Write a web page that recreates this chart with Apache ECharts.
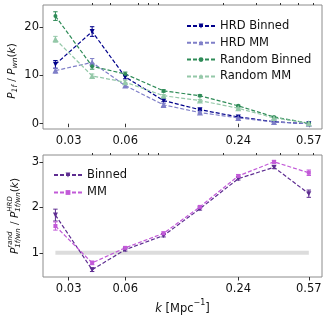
<!DOCTYPE html>
<html><head><meta charset="utf-8">
<script src="https://cdn.jsdelivr.net/npm/echarts@6/dist/echarts.min.js"></script>
<style>html,body{margin:0;padding:0;background:#fff}#c{width:328px;height:319px}</style>
</head><body><div id="c"></div>
<script>
// ---- data ----
const kValues = [0.0255, 0.040, 0.060, 0.096, 0.150, 0.240, 0.372, 0.570];
const xTickLabels = [0.03, 0.06, 0.24, 0.57];
const xMinorTicks = [0.04, 0.05, 0.07, 0.08, 0.09, 0.2, 0.3, 0.4, 0.5, 0.6];
const topYTicks = [0, 10, 20];
const botYTicks = [1, 2, 3];

const hrdBinned = [12.3, 19.1, 9.7, 4.8, 2.9, 1.4, 0.4, 0.0];
const hrdBinnedErr = [0.8, 1.0, 0.4, 0.25, 0.15, 0.1, 0.05, 0.03];
const hrdMM = [11.0, 12.7, 7.9, 3.9, 2.3, 1.2, 0.35, 0.0];
const hrdMMErr = [0.5, 0.8, 0.4, 0.3, 0.2, 0.1, 0.05, 0.03];
const randBinned = [22.3, 11.9, 10.3, 6.8, 5.8, 3.7, 1.4, 0.1];
const randBinnedErr = [0.9, 0.6, 0.4, 0.25, 0.2, 0.15, 0.08, 0.04];
const randMM = [17.5, 9.9, 8.6, 5.8, 4.8, 3.2, 1.2, 0.1];
const randMMErr = [0.6, 0.4, 0.4, 0.25, 0.2, 0.15, 0.08, 0.04];

const ratioBinned = [1.83, 0.63, 1.07, 1.38, 1.97, 2.63, 2.88, 2.30];
const ratioBinnedErr = [0.13, 0.04, 0.03, 0.03, 0.03, 0.03, 0.03, 0.08];
const ratioMM = [1.59, 0.78, 1.11, 1.43, 2.01, 2.69, 3.00, 2.76];
const ratioMMErr = [0.09, 0.04, 0.03, 0.03, 0.03, 0.03, 0.03, 0.06];
const refLevel = 1;

// ---- helpers ----
const FONT = '"DejaVu Sans", sans-serif';
const C = {
  hrdB: '#00008b', hrdM: '#7f7fc8', rndB: '#2e8b57', rndM: '#94c8a8',
  ratB: '#5e2d91', ratM: '#c25ad8', spine: '#8c8c8c'
};
const pairs = (vals) => kValues.map((k, i) => [k, vals[i]]);

function lineSeries(name, vals, color, symbol, size, rotate, axisIdx) {
  return {
    type: 'line', name, data: pairs(vals), xAxisIndex: axisIdx, yAxisIndex: axisIdx,
    symbol, symbolSize: size, symbolRotate: rotate || 0,
    lineStyle: { color, width: 1.2, type: [4, 2] },
    itemStyle: { color }, z: 5, animation: false
  };
}
function errSeries(vals, errs, color, axisIdx) {
  return {
    type: 'custom', xAxisIndex: axisIdx, yAxisIndex: axisIdx, silent: true, z: 4, animation: false,
    data: kValues.map((k, i) => [k, vals[i] - errs[i], vals[i] + errs[i]]),
    renderItem: (params, api) => {
      const lo = api.coord([api.value(0), api.value(1)]);
      const hi = api.coord([api.value(0), api.value(2)]);
      const w = 2.2;
      const st = { stroke: color, lineWidth: 1 };
      return { type: 'group', children: [
        { type: 'line', shape: { x1: lo[0], y1: lo[1], x2: hi[0], y2: hi[1] }, style: st },
        { type: 'line', shape: { x1: lo[0] - w, y1: lo[1], x2: lo[0] + w, y2: lo[1] }, style: st },
        { type: 'line', shape: { x1: hi[0] - w, y1: hi[1], x2: hi[0] + w, y2: hi[1] }, style: st }
      ]};
    }
  };
}

const cv = document.createElement('canvas').getContext('2d');
function tw(t, size, italic) { cv.font = (italic ? 'italic ' : '') + size + 'px ' + FONT; return cv.measureText(t).width; }
function rotLabel(cx, cy, pieces) {
  let x = 0; const kids = [];
  pieces.forEach(p => {
    const list = p.stack ? p.stack : [p];
    let wmax = 0;
    list.forEach(q => {
      const w = tw(q.t, q.s, q.it); wmax = Math.max(wmax, w);
      kids.push({ type: 'text', x: x, y: q.dy || 0, style: {
        text: q.t, fontSize: q.s, fontStyle: q.it ? 'italic' : 'normal', fontFamily: FONT,
        fill: '#111', align: 'left', verticalAlign: 'middle' } });
    });
    x += wmax;
  });
  return { type: 'group', x: cx, y: cy + x / 2, rotation: Math.PI / 2, children: kids };
}

const xMin = 0.0219, xMax = 0.670;
function xAxes(gi, withName) {
  const major = {
    type: 'log', gridIndex: gi, min: xMin, max: xMax, logBase: 10,
    axisLine: { show: false }, splitLine: { show: false },
    axisTick: { show: true, length: 3.5, lineStyle: { color: '#333' }, customValues: xTickLabels },
    axisLabel: { show: true, customValues: xTickLabels, fontSize: 11.5, fontFamily: FONT, color: '#111', margin: 6,
      formatter: v => String(+v.toFixed(2)) },
    minorTick: { show: false }
  };
  if (withName) {
    major.name = '{i|k}{n| [Mpc}{s|−1}{n|]}';
    major.nameLocation = 'middle'; major.nameGap = 22;
    major.nameTextStyle = { rich: {
      i: { fontSize: 11.5, fontStyle: 'italic', fontFamily: FONT, color: '#111', lineHeight: 16, verticalAlign: 'bottom' },
      n: { fontSize: 11.5, fontFamily: FONT, color: '#111', lineHeight: 16, verticalAlign: 'bottom' },
      s: { fontSize: 8, fontFamily: FONT, color: '#111', lineHeight: 16, verticalAlign: 'top' } } };
  }
  const minor = {
    type: 'log', gridIndex: gi, min: xMin, max: xMax, logBase: 10,
    axisLine: { show: false }, splitLine: { show: false },
    axisTick: { show: true, length: 2, lineStyle: { color: '#333' }, customValues: xMinorTicks },
    axisLabel: { show: false, customValues: xMinorTicks }
  };
  return [major, minor];
}
function yAxis(gi, min, max, ticks) {
  return {
    type: 'value', gridIndex: gi, min, max,
    axisLine: { show: false }, splitLine: { show: false },
    axisTick: { show: true, length: 3.5, lineStyle: { color: '#333' }, customValues: ticks },
    axisLabel: { customValues: ticks, fontSize: 11.5, fontFamily: FONT, color: '#111', margin: 4 }
  };
}

const chart = echarts.init(document.getElementById('c'), null, { renderer: 'canvas' });
const xa = [...xAxes(0, false), ...xAxes(1, true)];
const option = {
  animation: false,
  grid: [
    { left: 43, right: 6, top: 5, height: 124, show: true, borderColor: C.spine, borderWidth: 1, backgroundColor: 'transparent' },
    { left: 43, right: 6, top: 155, height: 122, show: true, borderColor: C.spine, borderWidth: 1, backgroundColor: 'transparent' }
  ],
  xAxis: xa,
  yAxis: [yAxis(0, -1.1, 24.6, topYTicks), yAxis(1, 0.47, 3.15, botYTicks)],
  legend: [
    { data: ['HRD Binned', 'HRD MM', 'Random Binned', 'Random MM'], orient: 'vertical', left: 181, top: 15,
      itemWidth: 28, itemHeight: 6, itemGap: 4.8,
      textStyle: { fontSize: 11.5, fontFamily: FONT, color: '#111', lineHeight: 12 } },
    { data: ['Binned', 'MM'], orient: 'vertical', left: 48, top: 164,
      itemWidth: 28, itemHeight: 6, itemGap: 5.5,
      textStyle: { fontSize: 11.5, fontFamily: FONT, color: '#111', lineHeight: 12 } }
  ],
  graphic: [
    rotLabel(12, 71, [
      { t: 'P', s: 10.5, it: true }, { t: '1f', s: 7.5, it: true, dy: 3 },
      { t: ' / ', s: 10.5 }, { t: 'P', s: 10.5, it: true }, { t: 'wn', s: 7.5, it: true, dy: 3 },
      { t: '(', s: 10.5 }, { t: 'k', s: 10.5, it: true }, { t: ')', s: 10.5 }
    ]),
    rotLabel(15, 216, [
      { t: 'P', s: 10.5, it: true },
      { stack: [{ t: 'rand', s: 7, it: true, dy: -4.5 }, { t: '1f/wn', s: 7, it: true, dy: 3.5 }] },
      { t: ' / ', s: 10.5 }, { t: 'P', s: 10.5, it: true },
      { stack: [{ t: 'HRD', s: 7, it: true, dy: -4.5 }, { t: '1f/wn', s: 7, it: true, dy: 3.5 }] },
      { t: '(', s: 10.5 }, { t: 'k', s: 10.5, it: true }, { t: ')', s: 10.5 }
    ])
  ],
  series: [
    {
      type: 'line', name: 'ref', xAxisIndex: 2, yAxisIndex: 1, silent: true, symbol: 'none', z: 1,
      data: [[kValues[0], refLevel], [kValues[kValues.length - 1], refLevel]],
      lineStyle: { color: '#dcdcdc', width: 4 }, animation: false
    },
    errSeries(hrdBinned, hrdBinnedErr, C.hrdB, 0),
    errSeries(hrdMM, hrdMMErr, C.hrdM, 0),
    errSeries(randBinned, randBinnedErr, C.rndB, 0),
    errSeries(randMM, randMMErr, C.rndM, 0),
    lineSeries('HRD Binned', hrdBinned, C.hrdB, 'triangle', 5, 180, 0),
    lineSeries('HRD MM', hrdMM, C.hrdM, 'triangle', 6, 0, 0),
    lineSeries('Random Binned', randBinned, C.rndB, 'circle', 4, 0, 0),
    lineSeries('Random MM', randMM, C.rndM, 'triangle', 6, 0, 0),
    Object.assign(errSeries(ratioBinned, ratioBinnedErr, C.ratB, 2), { yAxisIndex: 1 }),
    Object.assign(errSeries(ratioMM, ratioMMErr, C.ratM, 2), { yAxisIndex: 1 }),
    Object.assign(lineSeries('Binned', ratioBinned, C.ratB, 'triangle', 5, 180, 2), { yAxisIndex: 1 }),
    Object.assign(lineSeries('MM', ratioMM, C.ratM, 'rect', 4, 0, 2), { yAxisIndex: 1 })
  ]
};
chart.setOption(option);
</script>
</body></html>
